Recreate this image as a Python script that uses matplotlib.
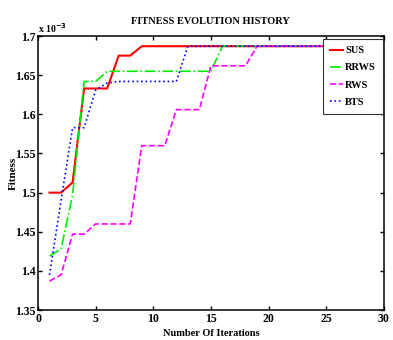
import numpy as np
import matplotlib.pyplot as plt
from matplotlib.ticker import FuncFormatter

plt.rcParams['font.family'] = 'Liberation Serif'
plt.rcParams['font.weight'] = 'bold'

# fitness values in units of 1e-3, iterations 1..30
iterations = np.arange(1, 31)
sus = [1.500, 1.500, 1.513, 1.633, 1.633, 1.633, 1.675, 1.675] + [1.687] * 22
rrws = [1.419, 1.428, 1.497, 1.642, 1.642] + [1.655] * 10 + [1.687] * 15
rws = [1.387, 1.395, 1.447, 1.447, 1.460, 1.460, 1.460, 1.460,
       1.560, 1.560, 1.560, 1.606, 1.606, 1.606,
       1.662, 1.662, 1.662, 1.662] + [1.687] * 12
bts = [1.395, 1.490, 1.583, 1.583, 1.631, 1.640] + [1.642] * 6 + [1.687] * 18

fig = plt.figure(figsize=(3.93, 3.40), dpi=100)
ax = fig.add_axes([0.0967, 0.088, 0.880, 0.806])

ax.plot(iterations, sus, color='red', lw=1.5, ls='-', label='SUS')
ax.plot(iterations, rrws, color='#00ee00', lw=1.2, ls='-.', label='RRWS')
ax.plot(iterations, rws, color='magenta', lw=1.2, ls='--', label='RWS')
ax.plot(iterations, bts, color='blue', lw=1.2, ls=':', label='BTS')

ax.set_xlim(0, 30)
ax.set_ylim(1.35, 1.70)
ax.set_xticks(np.arange(0, 31, 5))
ax.set_yticks(np.arange(1.35, 1.701, 0.05))
ax.yaxis.set_major_formatter(FuncFormatter(lambda v, p: '%g' % round(v, 2)))
ax.tick_params(direction='in', top=True, right=True, length=3, width=1,
               labelsize=8.5, pad=2)
for sp in ax.spines.values():
    sp.set_linewidth(1.1)

ax.set_title('FITNESS EVOLUTION HISTORY', fontsize=7.5, fontweight='bold', pad=9)
ax.set_xlabel('Number Of Iterations', fontsize=7.5, fontweight='bold', labelpad=3)
ax.set_ylabel('Fitness', fontsize=8, fontweight='bold', labelpad=-2)
ax.text(0.0, 1.005, r'x 10$^{-3}$', transform=ax.transAxes, fontsize=7,
        ha='left', va='bottom')

leg = ax.legend(loc='upper right', bbox_to_anchor=(0.998, 0.99),
                borderaxespad=0, fontsize=7.5, handlelength=1.25,
                handletextpad=0.15, borderpad=0.7, labelspacing=0.75,
                fancybox=False, framealpha=1)
leg.get_frame().set_edgecolor('#333333')
leg.get_frame().set_linewidth(0.8)

plt.savefig('out.png', dpi=100)
